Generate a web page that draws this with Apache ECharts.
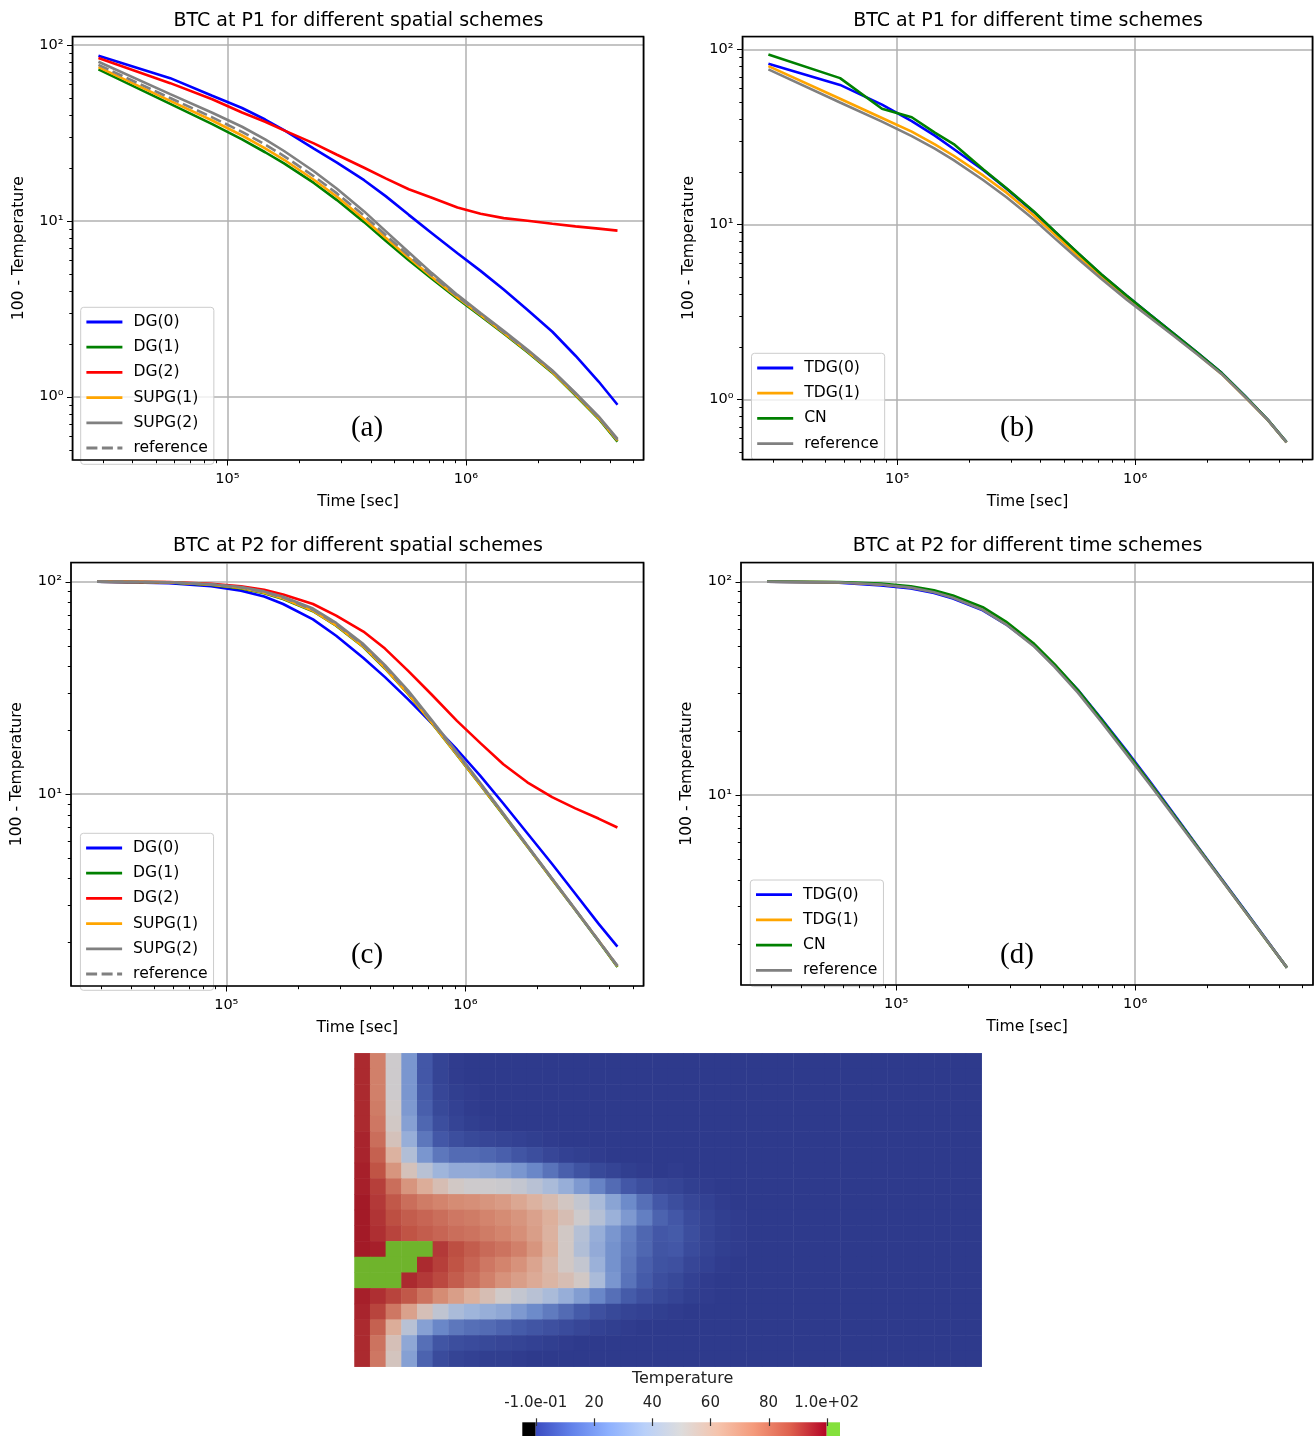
<!DOCTYPE html>
<html><head><meta charset="utf-8">
<script src="https://cdn.jsdelivr.net/npm/echarts@6/dist/echarts.min.js"></script>
<style>html,body{margin:0;padding:0;background:#fff}#c{width:1315px;height:1437px}</style>
</head><body><div id="c"></div><script>
// ---------- data ----------
const times = [28800, 57600, 86400, 115200, 144000, 172800, 230400, 288000, 374400, 460800,
  576000, 720000, 921600, 1152000, 1440000, 1814400, 2304000, 2880000, 3600000, 4320000];

// P1, spatial schemes (a)
const dg0P1 = [86.6, 64.6, 51.3, 43.7, 37.6, 32.7, 25.7, 21.4, 17.0, 13.8, 10.8, 8.5, 6.53, 5.19, 4.07, 3.11, 2.34, 1.71, 1.22, 0.90];
const dg1P1 = [72.4, 46.1, 35.4, 29.0, 24.5, 21.2, 16.4, 13.1, 9.82, 7.69, 5.97, 4.68, 3.61, 2.88, 2.29, 1.79, 1.37, 1.02, 0.75, 0.556];
const dg2P1 = [84.0, 60.5, 49.0, 41.2, 36.5, 32.6, 27.5, 23.7, 20.0, 17.4, 15.1, 13.5, 11.9, 10.96, 10.35, 10.0, 9.62, 9.29, 9.02, 8.79];
const supg1P1 = [74.6, 48.0, 37.1, 30.5, 25.8, 22.2, 17.1, 13.7, 10.2, 8.0, 6.17, 4.79, 3.66, 2.91, 2.31, 1.81, 1.38, 1.03, 0.757, 0.562];
const supg2P1 = [80.0, 52.4, 41.1, 34.2, 29.0, 24.9, 19.1, 15.2, 11.3, 8.73, 6.62, 5.04, 3.79, 2.99, 2.37, 1.85, 1.41, 1.05, 0.773, 0.577];
const refP1 = [76.9, 49.8, 38.7, 32.0, 27.1, 23.3, 17.9, 14.3, 10.7, 8.30, 6.35, 4.89, 3.72, 2.94, 2.33, 1.82, 1.40, 1.04, 0.764, 0.569];
// P1, time schemes (b)
const tdg0P1 = [82.8, 62.7, 48.4, 39.0, 32.2, 27.0, 20.4, 16.0, 11.8, 9.05, 6.83, 5.18, 3.91, 3.06, 2.40, 1.86, 1.42, 1.05, 0.768, 0.571];
const tdg1P1 = [80.3, 52.3, 40.6, 33.9, 28.7, 24.7, 19.0, 15.2, 11.3, 8.72, 6.60, 5.04, 3.79, 2.98, 2.35, 1.83, 1.40, 1.04, 0.764, 0.569];
const cnP1 = [93.6, 68.6, 45.8, 41.0, 33.5, 28.8, 20.6, 16.1, 11.9, 9.1, 6.86, 5.2, 3.92, 3.06, 2.40, 1.86, 1.42, 1.05, 0.768, 0.571];
// P2, spatial schemes (c)
const dg0P2 = [100, 98.4, 95.1, 90.6, 85.1, 78.5, 66.4, 55.6, 43.7, 35.5, 27.9, 21.6, 16.2, 12.2, 9.02, 6.53, 4.68, 3.39, 2.45, 1.91];
const dg1P2 = [100, 99.2, 96.6, 93.0, 88.3, 82.9, 72.6, 62.0, 49.2, 39.0, 29.6, 21.7, 15.25, 11.05, 7.97, 5.66, 3.96, 2.84, 2.03, 1.53];
const dg2P2 = [100, 99.5, 97.7, 95.1, 91.6, 87.1, 78.5, 69.2, 58.2, 48.4, 38.0, 29.5, 22.1, 17.4, 13.8, 11.35, 9.66, 8.55, 7.66, 6.95];
const supg1P2 = [100, 99.3, 96.8, 93.3, 88.6, 83.3, 72.9, 62.3, 49.4, 39.2, 29.7, 21.8, 15.3, 11.1, 8.0, 5.67, 3.97, 2.85, 2.04, 1.54];
const supg2P2 = [100, 99.3, 97.3, 94.4, 90.0, 84.9, 74.7, 63.9, 50.8, 40.4, 30.7, 22.4, 15.7, 11.3, 8.09, 5.72, 4.0, 2.86, 2.04, 1.55];
const refP2 = [100, 99.3, 97.0, 93.8, 89.3, 84.1, 73.8, 63.1, 50.1, 39.8, 30.2, 22.1, 15.5, 11.2, 8.04, 5.69, 3.98, 2.85, 2.04, 1.55];
// P2, time schemes (d)
const tdg0P2 = [100, 98.8, 96.0, 92.9, 88.4, 83.3, 73.4, 63.1, 50.6, 40.6, 31.1, 22.9, 16.1, 11.6, 8.24, 5.80, 4.04, 2.88, 2.05, 1.55];
const tdg1P2 = [100, 99.3, 97.0, 94.3, 90.2, 85.1, 74.9, 64.2, 51.1, 40.6, 30.8, 22.5, 15.8, 11.4, 8.12, 5.75, 4.0, 2.85, 2.04, 1.55];
const cnP2 = [100, 99.6, 98.0, 95.2, 91.1, 86.2, 75.9, 65.0, 51.6, 40.9, 31.0, 22.7, 15.9, 11.4, 8.16, 5.75, 4.0, 2.86, 2.04, 1.55];

// tick values
const majorXTicks = [1e5, 1e6];
const minorXTicks = [3e4, 4e4, 5e4, 6e4, 7e4, 8e4, 9e4, 2e5, 3e5, 4e5, 5e5, 6e5, 7e5, 8e5, 9e5, 2e6, 3e6, 4e6, 5e6];
const majorYTicksP1 = [1, 10, 100];
const minorYTicksP1 = [0.5, 0.6, 0.7, 0.8, 0.9, 2, 3, 4, 5, 6, 7, 8, 9, 20, 30, 40, 50, 60, 70, 80, 90];
const majorYTicksP2 = [10, 100];
const minorYTicksP2 = [2, 3, 4, 5, 6, 7, 8, 9, 20, 30, 40, 50, 60, 70, 80, 90];

// temperature field (rows top->bottom, 40 columns); 101 = above range (>100)
const G = 101;
const fieldRows = [
 [96,78,50,28,12,4,1,0,0,0,0,0,0,0,0,0,0,0,0,0, 0,0,0,0,0,0,0,0,0,0,0,0,0,0,0,0,0,0,0,0],
 [96,78,50,28,12,4,1,0,0,0,0,0,0,0,0,0,0,0,0,0, 0,0,0,0,0,0,0,0,0,0,0,0,0,0,0,0,0,0,0,0],
 [96,78,50,28,13,5,2,1,0,0,0,0,0,0,0,0,0,0,0,0, 0,0,0,0,0,0,0,0,0,0,0,0,0,0,0,0,0,0,0,0],
 [96,79,51,29,14,6,3,1,0,0,0,0,0,0,0,0,0,0,0,0, 0,0,0,0,0,0,0,0,0,0,0,0,0,0,0,0,0,0,0,0],
 [96,80,52,31,16,8,4,2,1,0,0,0,0,0,0,0,0,0,0,0, 0,0,0,0,0,0,0,0,0,0,0,0,0,0,0,0,0,0,0,0],
 [97,82,55,35,20,12,8,6,5,4,3,2,1,0,0,0,0,0,0,0, 0,0,0,0,0,0,0,0,0,0,0,0,0,0,0,0,0,0,0,0],
 [97,85,62,42,28,20,17,17,16,14,11,8,5,3,2,1,0,0,0,0, 0,0,0,0,0,0,0,0,0,0,0,0,0,0,0,0,0,0,0,0],
 [98,88,72,55,44,37,34,34,33,31,28,24,19,14,10,6,4,2,1,0, 1,0,0,0,0,0,0,0,0,0,0,0,0,0,0,0,0,0,0,0],
 [98,92,82,72,64,57,52,50,50,49,47,44,40,35,29,23,17,12,8,5, 4,2,1,0,0,0,0,0,0,0,0,0,0,0,0,0,0,0,0,0],
 [99,93,87,82,79,77,75,74,72,70,66,62,58,53,47,40,32,25,18,12, 8,5,3,1,0,0,0,0,0,0,0,0,0,0,0,0,0,0,0,0],
 [99,94,89,86,84,82,80,79,77,75,72,68,63,57,50,43,36,29,22,15, 12,7,4,2,1,0,0,0,0,0,0,0,0,0,0,0,0,0,0,0],
 [99,95,91,88,86,84,82,81,79,77,74,69,62,52,43,35,28,22,16,12, 13,8,4,2,1,0,0,0,0,0,0,0,0,0,0,0,0,0,0,0],
 [99,98,G,G,G,93,89,86,83,81,78,72,63,52,42,34,27,21,16,11, 12,7,4,2,1,0,0,0,0,0,0,0,0,0,0,0,0,0,0,0],
 [G,G,G,G,96,92,88,84,80,77,73,67,60,52,47,36,27,20,14,10, 9,5,3,1,0,0,0,0,0,0,0,0,0,0,0,0,0,0,0,0],
 [G,G,G,96,93,90,86,82,78,73,69,65,61,57,52,40,28,19,13,8, 6,3,1,0,0,0,0,0,0,0,0,0,0,0,0,0,0,0,0,0],
 [98,95,91,87,81,75,69,63,57,51,47,44,40,35,30,24,18,13,9,6, 4,2,1,0,0,0,0,0,0,0,0,0,0,0,0,0,0,0,0,0],
 [97,91,80,68,56,46,40,37,35,33,29,25,21,17,13,9,6,4,3,2, 1,0,0,0,0,0,0,0,0,0,0,0,0,0,0,0,0,0,0,0],
 [96,85,64,44,31,24,20,18,17,15,13,11,9,7,5,3,2,1,0,0, 0,0,0,0,0,0,0,0,0,0,0,0,0,0,0,0,0,0,0,0],
 [96,81,56,33,18,11,8,7,6,5,4,3,2,1,0,0,0,0,0,0, 0,0,0,0,0,0,0,0,0,0,0,0,0,0,0,0,0,0,0,0],
 [96,80,54,31,15,7,4,3,2,2,1,0,0,0,0,0,0,0,0,0, 0,0,0,0,0,0,0,0,0,0,0,0,0,0,0,0,0,0,0,0]
];

// colorbar
const colorbarTicks = [-0.1, 20, 40, 60, 80, 100];
const colorbarLabels = ['-1.0e-01', '20', '40', '60', '80', '1.0e+02'];

// ---------- settings ----------
const FONT = 'DejaVu Sans';
const X_RANGE = [22420, 5553000];
const Y_RANGE = [[0.437, 111.4], [0.454, 118.6], [1.246, 123.1], [1.285, 123.0]];
const GRIDS = [
  {left: 72.5, top: 36.5, width: 571, height: 423.5},
  {left: 742.5, top: 36.5, width: 570, height: 423},
  {left: 71, top: 562.5, width: 572.5, height: 423.5},
  {left: 741, top: 562.5, width: 572, height: 422.5},
  {left: 354.5, top: 1053.3, width: 627.2, height: 313.4},
  {left: 522.3, top: 1422.3, width: 317.7, height: 13.7}
];
const CB_RANGE = [-4.71, 104.58];
const C = {blue: '#0000ff', green: '#008000', red: '#ff0000', orange: '#ffa500', gray: '#808080'};
const coolWarm = ['#3b4cc0', '#6282ea', '#8db0fe', '#b9d0f9', '#dddcdc', '#f5c4ad', '#f49a7b', '#de604d', '#b40426'];
const fieldColors = ['#2e3a8c', '#4459a8', '#6e8ccb', '#a3b8dc', '#cfcbcb', '#ddb09c', '#d58a72', '#bf5244', '#9e0f22'];

const SUP = {'0': '\u2070', '1': '\u00b9', '2': '\u00b2', '3': '\u00b3', '4': '\u2074', '5': '\u2075', '6': '\u2076', '-': '\u207b'};
function logLabel(v) {
  const e = Math.log10(v), r = Math.round(e);
  if (Math.abs(e - r) > 1e-6) return '';
  return '10' + String(r).split('').map(c => SUP[c]).join('');
}

const grid = GRIDS.map((g, i) => Object.assign({
  show: i < 4, z: 10, borderColor: '#000', borderWidth: i < 4 ? 1.7 : 0,
  backgroundColor: 'transparent', containLabel: false, outerBoundsMode: 'none'
}, g));

const xAxis = [], yAxis = [];
for (let i = 0; i < 4; i++) {
  xAxis.push({
    type: 'log', logBase: 10, gridIndex: i, min: X_RANGE[0], max: X_RANGE[1],
    axisLine: {show: false}, axisTick: {show: false},
    splitLine: {show: true, lineStyle: {color: '#b0b0b0', width: 1.5}},
    axisLabel: {formatter: logLabel, fontSize: 14.5, color: '#000', fontFamily: FONT, margin: 12, hideOverlap: false},
    name: 'Time [sec]', nameLocation: 'middle', nameGap: 34,
    nameTextStyle: {fontSize: 15.6, color: '#000', fontFamily: FONT}
  });
  yAxis.push({
    type: 'log', logBase: 10, gridIndex: i, min: Y_RANGE[i][0], max: Y_RANGE[i][1],
    axisLine: {show: false}, axisTick: {show: false},
    splitLine: {show: true, lineStyle: {color: '#b0b0b0', width: 1.5}},
    axisLabel: {formatter: logLabel, fontSize: 14.5, color: '#000', fontFamily: FONT, margin: 9, hideOverlap: false},
    name: '100 - Temperature', nameLocation: 'middle', nameRotate: 90, nameGap: 46,
    nameTextStyle: {fontSize: 15.6, color: '#000', fontFamily: FONT}
  });
}
// field axes
xAxis.push({type: 'category', gridIndex: 4, data: fieldRows[0].map((_, i) => i), show: false});
yAxis.push({type: 'category', gridIndex: 4, data: fieldRows.map((_, i) => i), show: false, inverse: true});
// colorbar axes
xAxis.push({
  type: 'value', gridIndex: 5, position: 'top', min: CB_RANGE[0], max: CB_RANGE[1],
  axisLine: {show: false}, splitLine: {show: false}, axisTick: {show: false},
  axisLabel: {customValues: colorbarTicks, margin: 12,
    formatter: v => { const k = colorbarTicks.findIndex(t => Math.abs(t - v) < 1e-6); return k >= 0 ? colorbarLabels[k] : ''; },
    fontSize: 15, color: '#222', fontFamily: FONT, hideOverlap: false}
});
yAxis.push({type: 'value', gridIndex: 5, min: 0, max: 1, show: false});

// ---------- series ----------
const series = [];
function addLine(name, vals, color, gi, extra) {
  series.push(Object.assign({
    type: 'line', name, xAxisIndex: gi, yAxisIndex: gi,
    data: times.map((t, i) => [t, vals[i]]),
    showSymbol: false, symbol: 'none', smooth: false,
    lineStyle: {color, width: 2.6}, itemStyle: {color},
    emphasis: {disabled: true}, animation: false, z: 3
  }, extra || {}));
}
addLine('DG(0)', dg0P1, C.blue, 0);
addLine('DG(1)', dg1P1, C.green, 0);
addLine('DG(2)', dg2P1, C.red, 0);
addLine('SUPG(1)', supg1P1, C.orange, 0);
addLine('SUPG(2)', supg2P1, C.gray, 0);
addLine('reference', refP1, C.gray, 0, {lineStyle: {color: C.gray, width: 2.6, type: [11, 4.5]}});

addLine('TDG(0)', tdg0P1, C.blue, 1);
addLine('TDG(1)', tdg1P1, C.orange, 1);
addLine('CN', cnP1, C.green, 1);
addLine('reference [t]', refP1, C.gray, 1);

addLine('DG(0)', dg0P2, C.blue, 2);
addLine('DG(1)', dg1P2, C.green, 2);
addLine('DG(2)', dg2P2, C.red, 2);
addLine('SUPG(1)', supg1P2, C.orange, 2);
addLine('SUPG(2)', supg2P2, C.gray, 2);
addLine('reference', refP2, C.gray, 2, {lineStyle: {color: C.gray, width: 2.6, type: [11, 4.5]}});

addLine('TDG(0)', tdg0P2, C.blue, 3);
addLine('TDG(1)', tdg1P2, C.orange, 3);
addLine('CN', cnP2, C.green, 3);
addLine('reference [t]', refP2, C.gray, 3);

// tick marks (matplotlib style major + minor) drawn through the axes' scales
function tickSeries(gi, dir, majors, minors) {
  const data = dir === 'x'
    ? majors.map(v => [v, 10, 5.5]).concat(minors.map(v => [v, 10, 3.2]))
    : majors.map(v => [1e5, v, 5.5]).concat(minors.map(v => [1e5, v, 3.2]));
  series.push({
    type: 'custom', xAxisIndex: gi, yAxisIndex: gi, clip: false, silent: true, z: 12,
    encode: {x: 0, y: 1}, data,
    renderItem: (params, api) => {
      const cs = params.coordSys;
      const p = api.coord([api.value(0), api.value(1)]);
      const len = api.value(2);
      if (dir === 'x') {
        const x = Math.round(p[0]) + 0.5, yb = cs.y + cs.height;
        return {type: 'line', shape: {x1: x, y1: yb, x2: x, y2: yb + len}, style: {stroke: '#000', lineWidth: 1}};
      }
      const y = Math.round(p[1]) + 0.5, xl = cs.x;
      return {type: 'line', shape: {x1: xl - len, y1: y, x2: xl, y2: y}, style: {stroke: '#000', lineWidth: 1}};
    }
  });
}
for (let i = 0; i < 4; i++) {
  tickSeries(i, 'x', majorXTicks, minorXTicks);
  tickSeries(i, 'y', i < 2 ? majorYTicksP1 : majorYTicksP2, i < 2 ? minorYTicksP1 : minorYTicksP2);
}

// temperature field
const heatData = [];
fieldRows.forEach((row, j) => row.forEach((v, i) => heatData.push([i, j, v])));
series.push({
  type: 'heatmap', xAxisIndex: 4, yAxisIndex: 4, data: heatData,
  itemStyle: {borderWidth: 0}, emphasis: {disabled: true}, silent: true, progressive: 0, animation: false
});
const heatIndex = series.length - 1;

// colorbar
const cbSegments = [[CB_RANGE[0], colorbarTicks[0], 'below'], [colorbarTicks[0], 100, 'range'], [100, CB_RANGE[1], 'above']];
series.push({
  type: 'custom', xAxisIndex: 5, yAxisIndex: 5, clip: false, silent: true, z: 5,
  encode: {x: [0, 1]}, data: cbSegments,
  renderItem: (params, api) => {
    const cs = params.coordSys;
    const x0 = api.coord([api.value(0), 0])[0], x1 = api.coord([api.value(1), 0])[0];
    const kind = cbSegments[params.dataIndex][2];
    let fill;
    if (kind === 'below') fill = '#000000';
    else if (kind === 'above') fill = '#84e03c';
    else fill = new echarts.graphic.LinearGradient(0, 0, 1, 0, coolWarm.map((c, k) => ({offset: k / (coolWarm.length - 1), color: c})));
    return {type: 'rect', shape: {x: x0, y: cs.y, width: x1 - x0, height: cs.height}, style: {fill}};
  }
});
// colorbar tick marks
series.push({
  type: 'custom', xAxisIndex: 5, yAxisIndex: 5, clip: false, silent: true, z: 6,
  encode: {x: 0}, data: colorbarTicks.map(v => [v, 0]),
  renderItem: (params, api) => {
    const cs = params.coordSys;
    const x = Math.round(api.coord([api.value(0), 0])[0]) + 0.5;
    return {type: 'line', shape: {x1: x, y1: cs.y - 4, x2: x, y2: cs.y + 3.7}, style: {stroke: '#333', lineWidth: 1.2}};
  }
});

function legend(names, left, top) {
  return {
    show: true, orient: 'vertical', left, top, data: names, selectedMode: false,
    padding: [6.7, 6, 8.3, 4.3], itemWidth: 36, itemHeight: 14, itemGap: 9.2,
    itemStyle: {opacity: 0, borderWidth: 0}, lineStyle: {width: 2.8},
    backgroundColor: 'rgba(255,255,255,0.8)', borderColor: '#cccccc', borderWidth: 1, borderRadius: 3,
    textStyle: {fontFamily: FONT, fontSize: 15.6, color: '#000', padding: [0, 0, 0, 6]},
    formatter: n => n.replace(' [t]', '')
  };
}
const spatialNames = ['DG(0)', 'DG(1)', 'DG(2)', 'SUPG(1)', 'SUPG(2)', 'reference'];
const timeNames = ['TDG(0)', 'TDG(1)', 'CN', 'reference [t]'];

function txt(text, x, y, font, fill) {
  return {type: 'text', x, y, silent: true, z: 20,
    style: {text, font, fill: fill || '#000', textAlign: 'center', textVerticalAlign: 'middle'}};
}
const TF = 'normal 19px "DejaVu Sans"';
const LF = 'normal 29px "Liberation Serif"';

const option = {
  animation: false,
  backgroundColor: '#ffffff',
  grid, xAxis, yAxis, series,
  legend: [legend(spatialNames, 80.7, 307.3), legend(timeNames, 751.5, 353.3),
           legend(spatialNames, 80.4, 833.3), legend(timeNames, 750.3, 880)],
  visualMap: [{
    type: 'continuous', show: false, seriesIndex: heatIndex, dimension: 2,
    min: 0, max: 101, range: [0, 100],
    inRange: {color: fieldColors}, outOfRange: {color: '#6fb42c'}
  }],
  graphic: [
    txt('BTC at P1 for different spatial schemes', 358.4, 20.7, TF),
    txt('BTC at P1 for different time schemes', 1028, 20.7, TF),
    txt('BTC at P2 for different spatial schemes', 358, 546.5, TF),
    txt('BTC at P2 for different time schemes', 1027.5, 546.5, TF),
    txt('(a)', 367, 428, LF), txt('(b)', 1017, 428, LF),
    txt('(c)', 367, 955.5, LF), txt('(d)', 1017, 955.5, LF),
    txt('Temperature', 682.6, 1379, 'normal 16px "DejaVu Sans"', '#222')
  ]
};
const chart = echarts.init(document.getElementById('c'), null, {renderer: 'canvas', width: 1315, height: 1437});
chart.setOption(option);
</script></body></html>
